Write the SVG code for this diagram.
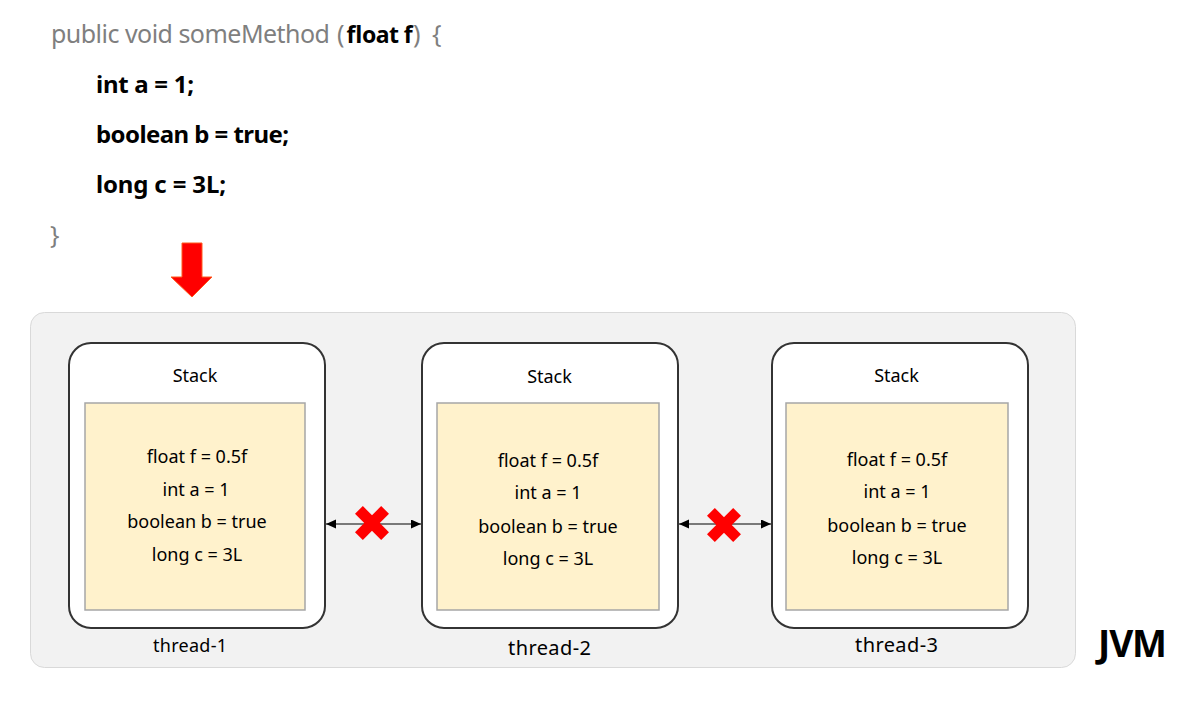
<svg xmlns="http://www.w3.org/2000/svg" width="1201" height="721" viewBox="0 0 1201 721">
  <style>
    .code { font-family: "Noto Sans", "Liberation Sans", sans-serif; font-size: 25px; fill: #7f7f7f; }
    .codeb { font-family: "Noto Sans", "Liberation Sans", sans-serif; font-size: 24px; font-weight: bold; fill: #000; }
    .t { font-family: "Noto Sans", "Liberation Sans", sans-serif; font-size: 18px; fill: #000; text-anchor: middle; }
    .lbl { font-family: "Noto Sans", "Liberation Sans", sans-serif; font-size: 20px; fill: #000; text-anchor: middle; }
    .box { fill: #ffffff; stroke: #333333; stroke-width: 2; }
    .inner { fill: #fff2cc; stroke: #a6a6a6; stroke-width: 1.5; }
    .conn { stroke: #000; stroke-width: 1.2; fill: none; marker-start: url(#ah); marker-end: url(#ah); }
  </style>
  <defs>
    <marker id="ah" markerUnits="userSpaceOnUse" markerWidth="12" markerHeight="10" refX="10" refY="4.5" orient="auto-start-reverse">
      <path d="M0,0 L10,4.5 L0,9 Z" fill="#000"/>
    </marker>
    <g id="xmark">
      <rect x="-18.5" y="-5.5" width="37" height="11" fill="#ff0000" transform="rotate(45)"/>
      <rect x="-18.5" y="-5.5" width="37" height="11" fill="#ff0000" transform="rotate(-45)"/>
    </g>
  </defs>
  <rect width="1201" height="721" fill="#ffffff"/>

  <g id="code">
    <text class="code" x="51" y="43" textLength="279">public void someMethod</text>
    <text class="code" x="337" y="43">(</text>
    <text class="codeb" x="346" y="43" style="font-size:23px" textLength="66">float f</text>
    <text class="code" x="413" y="43">)</text>
    <text class="code" x="432" y="43">{</text>
    <text class="codeb" x="96" y="93" textLength="98">int a = 1;</text>
    <text class="codeb" x="96" y="143" textLength="193">boolean b = true;</text>
    <text class="codeb" x="96" y="193" textLength="130">long c = 3L;</text>
    <text class="code" x="50" y="244">}</text>
  </g>

  <g id="down-arrow">
    <polygon points="182,243 202,243 202,277 212,277 192,297 171,277 182,277" fill="#ff0000" stroke="#ff5a1f" stroke-width="1"/>
  </g>

  <g id="jvm">
    <rect x="30.5" y="312.5" width="1045" height="355" rx="14" fill="#f2f2f2" stroke="#d9d9d9" stroke-width="1"/>
    <text x="1098" y="657" font-family="Noto Sans, Liberation Sans, sans-serif" font-size="37" font-weight="bold" fill="#000" textLength="69">JVM</text>
  </g>

  <g id="thread-1">
    <rect class="box" x="69" y="343" width="256" height="285" rx="22"/>
    <text class="t" x="195" y="382">Stack</text>
    <rect class="inner" x="85" y="403" width="220" height="207"/>
    <text class="t" x="197" y="463">float f = 0.5f</text>
    <text class="t" x="196" y="496">int a = 1</text>
    <text class="t" x="197" y="528">boolean b = true</text>
    <text class="t" x="197" y="561">long c = 3L</text>
    <text class="lbl" x="190" y="652" style="font-size:18px" textLength="74">thread-1</text>
  </g>

  <g id="thread-2">
    <rect class="box" x="422" y="343" width="256" height="285" rx="22"/>
    <text class="t" x="549.5" y="383">Stack</text>
    <rect class="inner" x="437" y="403" width="222" height="207"/>
    <text class="t" x="548" y="467">float f = 0.5f</text>
    <text class="t" x="548" y="499">int a = 1</text>
    <text class="t" x="548" y="533">boolean b = true</text>
    <text class="t" x="548" y="565">long c = 3L</text>
    <text class="lbl" x="549.5" y="655" textLength="83">thread-2</text>
  </g>

  <g id="thread-3">
    <rect class="box" x="772" y="343" width="256" height="285" rx="22"/>
    <text class="t" x="896.5" y="382">Stack</text>
    <rect class="inner" x="786" y="403" width="222" height="207"/>
    <text class="t" x="897" y="466">float f = 0.5f</text>
    <text class="t" x="897" y="498">int a = 1</text>
    <text class="t" x="897" y="532">boolean b = true</text>
    <text class="t" x="897" y="564">long c = 3L</text>
    <text class="lbl" x="896.5" y="652" textLength="83">thread-3</text>
  </g>

  <g id="connectors">
    <line class="conn" x1="326" y1="524" x2="421" y2="524"/>
    <use href="#xmark" transform="translate(372,523)"/>
    <line class="conn" x1="679" y1="524" x2="771" y2="524"/>
    <use href="#xmark" transform="translate(724,525)"/>
  </g>
</svg>
